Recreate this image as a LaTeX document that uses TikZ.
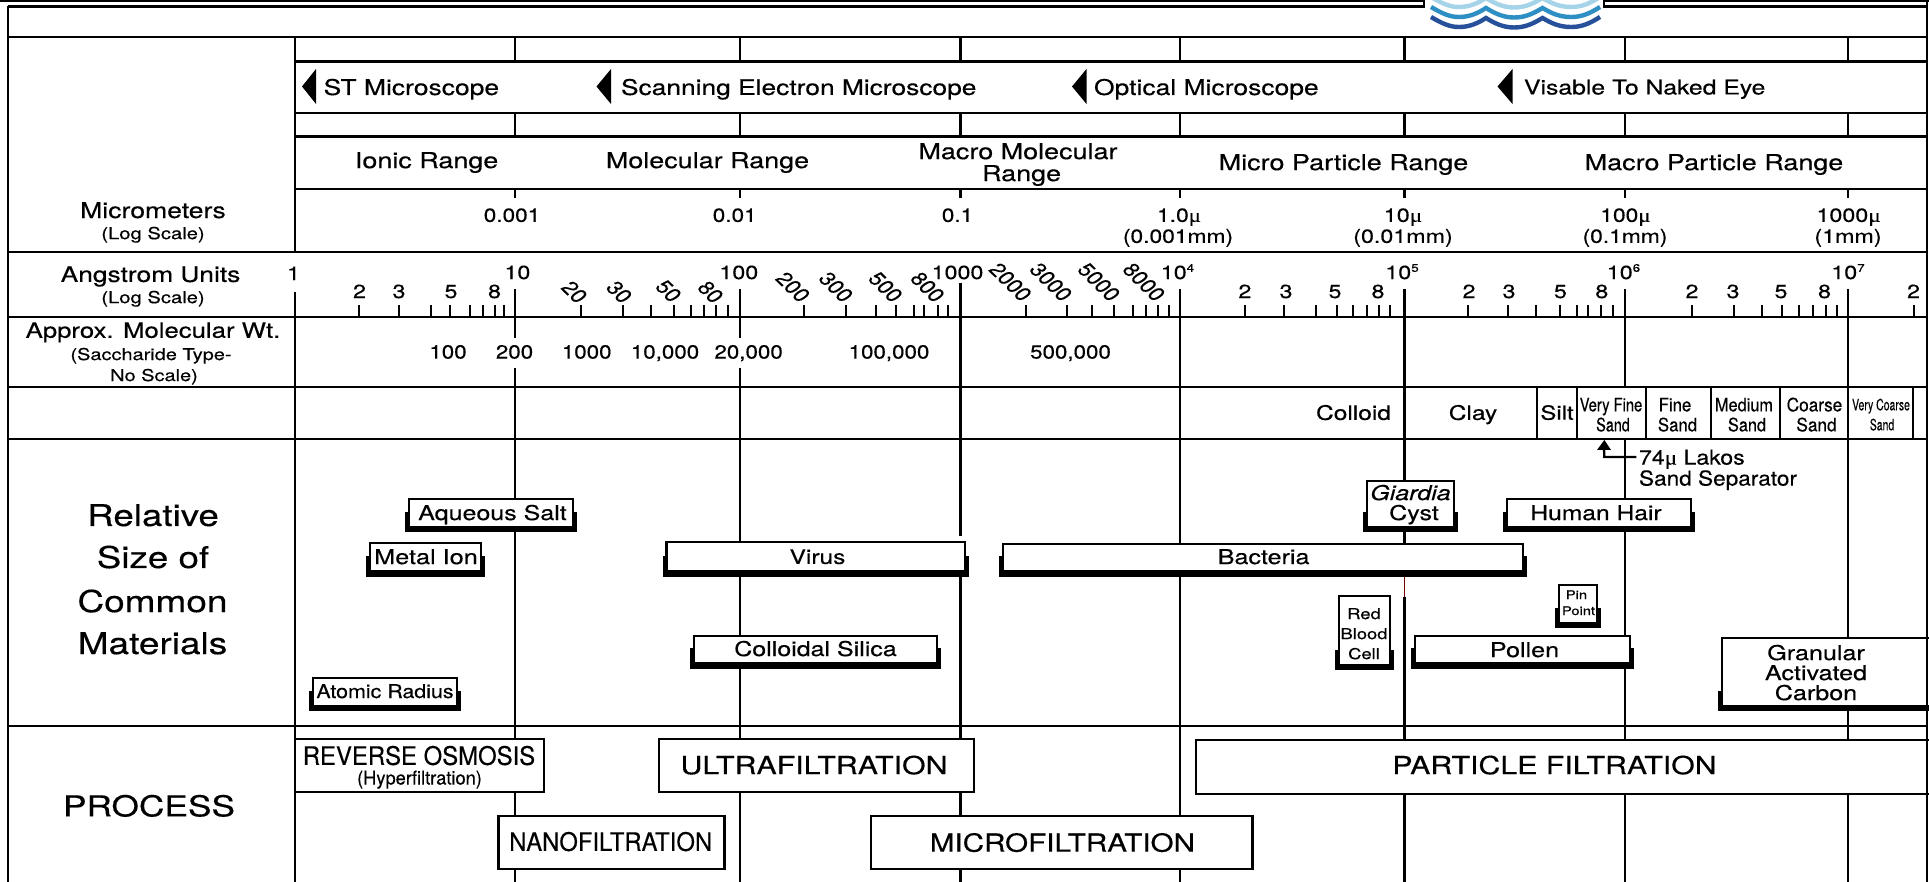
\documentclass[tikz,border=0pt]{standalone}
\usepackage{graphicx}
\usepackage{fontspec}
\setmainfont[FakeBold=0.3]{TeX Gyre Heros}
\newfontfamily\muf[FakeBold=0.3]{Liberation Serif}
\definecolor{waveA}{HTML}{A5D3E8}
\definecolor{waveB}{HTML}{2E8FC4}
\definecolor{waveC}{HTML}{27509B}
\tikzset{
  frameline/.style={line width=2.6pt,black},
  gridline/.style={line width=2.3pt,black},
  ticksmall/.style={line width=2pt,black},
  boxout/.style={draw=black,fill=white,line width=2.4pt},
  lab/.style={inner sep=0pt,outer sep=0pt,transform shape},
}
\newcommand\lab[6][base]{\node[lab,anchor=#1] (#2) at (#3,{#4+0.36*#5-0.8}) {\fontsize{#5}{#5}\selectfont\scalebox{#6}[1]{\labtext}};}
\newcommand\labtext{}
\newcommand\T[7][base]{\renewcommand\labtext{#7}\lab[#1]{#2}{#3}{#4}{#5}{#6}}
\newcommand\R[4]{\node[lab,anchor=center,rotate=-50] (#1) at (#2,#3) {\fontsize{19}{19}\selectfont #4};}
\newcommand\mus{{\muf μ}}
\newcommand\pw[1]{10\raisebox{0.38em}{\fontsize{11}{11}\selectfont #1}}
\newcommand\shadowbox[5]{%
  \fill[black] (#1-4,#4-15) rectangle (#3+4,#5+0.5);
  \draw[boxout] (#1,#2) rectangle (#3,#4);}
\newcommand\plainbox[4]{\draw[boxout] (#1,#2) rectangle (#3,#4);}
\newcommand\wavepath{(1431,17) .. controls (1443,24) and (1450,27) .. (1459,27) .. controls (1470,27) and (1478,23) .. (1486,18) .. controls (1494,23) and (1503,27.5) .. (1514,27.5) .. controls (1526,27.5) and (1534,23) .. (1542.5,18) .. controls (1551,23) and (1559,27) .. (1571,27) .. controls (1581,27) and (1589,24) .. (1600,17)}
\begin{document}
\begin{tikzpicture}[xscale=1.225,x=0.81633pt,y=-1pt]
\clip (0,0) rectangle (1929,882);
\fill[white] (0,0) rectangle (1929,882);
% logo
\draw[waveC,line width=4.4pt] \wavepath;
\begin{scope}[yshift=10pt]
\draw[waveB,line width=4.4pt] \wavepath;
\end{scope}
\begin{scope}[yshift=20pt]
\draw[waveA,line width=4.4pt] \wavepath;
\end{scope}
% top strips
\draw[frameline] (0,0.5) -- (1424,0.5) -- (1424,6.5) -- (8,6.5);
\draw[frameline] (1929,0.5) -- (1604,0.5) -- (1604,6.5) -- (1927,6.5);
% vertical scale lines
\foreach \x/\a/\b in {
  295/37/252, 295/292/882,
  515/37/61, 515/113/137, 515/189/198, 515/289/338, 515/368/882,
  740/37/61, 740/113/137, 740/189/198, 740/289/338, 740/368/882,
  960.5/37/61, 960.5/113/137, 960.5/189/198, 960.5/283/536, 960.5/543/882,
  1180/37/61, 1180/113/137, 1180/189/198, 1180/289/882,
  1404.5/37/61, 1404.5/113/137, 1404.5/189/198, 1404.5/289/576, 1404.5/597/882,
  1625/37/61, 1625/113/137, 1625/189/198, 1625/289/387, 1625/439/882,
  1848/37/61, 1848/113/137, 1848/189/198, 1848/289/882}
  {\draw[gridline] (\x,\a) -- (\x,\b);}
\draw[line width=1.4pt,red!45!black] (1404.5,576) -- (1404.5,597);
% horizontal rules
\foreach \y/\a in {37/8, 61.5/295, 113/295, 136.5/295, 189/295, 252/8, 317.3/8, 386.7/8, 438.7/8, 726.3/8}
  {\draw[gridline] (\a,\y) -- (1927,\y);}
% ticks of the Angstrom scale
\foreach \x in {359,398.6,431,450.4,470.4,482.7,494.5,504,
  581.4,623.4,651.4,673.5,691.4,703.6,716,727.7,
  803.6,845.7,875.5,895.9,913.5,924,938,948,
  1025.6,1067,1092,1114,1133,1146,1158,1168.6,
  1244.9,1284,1315.5,1336.5,1353,1367,1379,1390,
  1468,1508,1536,1559.6,1577,1588,1601,1612.5,
  1691.5,1734,1761.5,1782,1798.6,1812.7,1826,1837,1914}
  {\draw[ticksmall] (\x,305) -- (\x,317);}
% sand dividers
\foreach \x in {1404.5,1537,1577,1646,1711,1780,1848,1913}
  {\draw[gridline] (\x,387) -- (\x,439);}
% microscope arrows
\foreach \t/\b in {302/316,596.5/611,1072/1086.5,1497.5/1512.5}
  {\fill[black] (\t,86.5) -- (\b,69) -- (\b,104) -- cycle;}
% sand separator arrow
\coordinate (sandTip) at (1604,440);
\coordinate (sandElbow) at (1604,457);
\coordinate (sandEnd) at (1636,457);
\fill[black] (sandTip) -- (1611,450) -- (1597,450) -- cycle;
\draw[gridline] (1604,449) -- (sandElbow) -- (sandEnd);
% boxes with shadow
\shadowbox{409}{499}{573}{527}{532}
\shadowbox{370}{543}{481}{571}{577}
\shadowbox{313}{678}{457}{706}{711}
\shadowbox{666.5}{542}{965}{571}{577}
\shadowbox{1003}{544}{1523}{571}{577}
\shadowbox{694}{636}{937}{663}{669}
\shadowbox{1367}{481}{1454}{527}{532}
\shadowbox{1507}{499}{1691}{527}{532}
\shadowbox{1339}{596}{1390}{665}{670}
\shadowbox{1559}{585}{1597}{623}{628}
\shadowbox{1415}{636}{1630}{663}{669}
\shadowbox{1722}{638}{1940}{706}{711}
% process boxes
\plainbox{295}{739}{544}{792}
\plainbox{498.6}{816}{724.5}{869}
\plainbox{659}{739}{974}{792}
\plainbox{871}{816}{1252.5}{869}
\plainbox{1196}{740}{1940}{794}
% outer frame
\draw[frameline] (8,6.5) -- (8,882);
\draw[frameline] (1927,0) -- (1927,882);
% left column
\T{micro}{153}{211}{21.7}{1}{Micrometers}
\T{microsub}{153}{234}{16.5}{1}{(Log Scale)}
\T{ang}{150.5}{275}{21.5}{1}{Angstrom Units}
\T{angsub}{153}{298}{16.5}{1}{(Log Scale)}
\T{approx}{153}{331}{21}{1}{Approx. Molecular Wt.}
\T{sacch}{151}{355}{16.3}{1}{(Saccharide Type-}
\T{noscale}{154}{376}{16.3}{1}{No Scale)}
\T{rel}{153}{516}{30}{1}{Relative}
\T{size}{153}{558}{30}{1}{Size of}
\T{common}{152.5}{602}{30.2}{1}{Common}
\T{materials}{152.5}{644}{30.2}{1}{Materials}
\T{process}{149}{806.8}{28.8}{1}{PROCESS}
% microscope row
\T[base west]{st}{323.6}{88}{21.6}{1}{ST Microscope}
\T[base west]{sem}{621}{88}{21.5}{1}{Scanning Electron Microscope}
\T[base west]{opt}{1094}{88}{21.6}{1}{Optical Microscope}
\T[base west]{eye}{1524}{88}{20.2}{1}{Visable To Naked Eye}
% range row
\T{ionic}{426.6}{161}{22}{1}{Ionic Range}
\T{molec}{707.5}{161}{22}{1}{Molecular Range}
\T{macromol}{1018}{152}{22}{1}{Macro Molecular}
\T{macromolb}{1021.6}{174}{22}{1}{Range}
\T{micropart}{1343.5}{163}{22}{1}{Micro Particle Range}
\T{macropart}{1714}{163}{22}{1}{Macro Particle Range}
% micrometre values
\T{ma}{512}{215.8}{19}{.97}{0.001}
\T{mb}{734.7}{215.8}{19}{.97}{0.01}
\T{mc}{957.5}{215.8}{19}{.97}{0.1}
\T{md}{1179}{215.8}{19}{.98}{1.0\mus}
\T{mdb}{1178}{236.8}{19}{.98}{(0.001mm)}
\T{me}{1403}{215.8}{19}{1}{10\mus}
\T{meb}{1403}{236.8}{19}{1}{(0.01mm)}
\T{mf}{1625.4}{215.8}{19}{.98}{100\mus}
\T{mfb}{1625}{236.8}{19}{.98}{(0.1mm)}
\T{mg}{1848.6}{215.8}{19}{1}{1000\mus}
\T{mgb}{1848}{236.8}{19}{1}{(1mm)}
% Angstrom labels
\T{aone}{293.5}{274}{19}{1}{1}
\T{aten}{517.4}{273}{19}{1}{10}
\T{ahun}{738.8}{273}{19}{1}{100}
\T{atho}{957.5}{273}{19}{1}{1000}
\T{afour}{1177.5}{273}{19}{1}{\pw{4}}
\T{afive}{1402}{273}{19}{1}{\pw{5}}
\T{asix}{1623.5}{273}{19}{1}{\pw{6}}
\T{aseven}{1848}{273}{19}{1}{\pw{7}}
\T{da}{359.5}{292}{19}{1}{2}
\T{db}{399}{292}{19}{1}{3}
\T{dc}{451}{292}{19}{1}{5}
\T{dd}{494.5}{292}{19}{1}{8}
\T{de}{1244.9}{292}{19}{1}{2}
\T{df}{1286}{292}{19}{1}{3}
\T{dg}{1335}{292}{19}{1}{5}
\T{dh}{1378}{292}{19}{1}{8}
\T{di}{1469}{292}{19}{1}{2}
\T{dj}{1509}{292}{19}{1}{3}
\T{dk}{1560.4}{292}{19}{1}{5}
\T{dl}{1601.8}{292}{19}{1}{8}
\T{dm}{1692}{292}{19}{1}{2}
\T{dn}{1733}{292}{19}{1}{3}
\T{do}{1781}{292}{19}{1}{5}
\T{dp}{1824.5}{292}{19}{1}{8}
\T{dq}{1913.5}{292}{19}{1}{2}
\R{ra}{574.5}{292}{20}
\R{rb}{619.3}{292}{30}
\R{rc}{668.6}{291}{50}
\R{rd}{710.6}{292}{80}
\R{re}{793}{287}{200}
\R{rf}{836}{287}{300}
\R{rg}{885.6}{287}{500}
\R{rh}{927.6}{287}{800}
\R{ri}{1010.5}{282}{2000}
\R{rj}{1051}{282}{3000}
\R{rk}{1099}{282}{5000}
\R{rl}{1144}{282}{8000}
% molecular weights
\T{wa}{448}{352.5}{19}{.96}{100}
\T{wb}{514.5}{352.5}{19}{.96}{200}
\T{wc}{586.7}{352.5}{19}{.96}{1000}
\T{wd}{665}{352.5}{19}{.96}{10,000}
\T{we}{748.6}{352.5}{19}{.96}{20,000}
\T{wf}{889}{352.5}{19}{.96}{100,000}
\T{wg}{1070.5}{352.5}{19}{.96}{500,000}
% particle classes
\T{colloid}{1353.5}{413.5}{20}{1}{Colloid}
\T{clay}{1473}{413.5}{20}{1}{Clay}
\T{silt}{1557}{413.5}{19.5}{1}{Silt}
\T{vfa}{1611}{405.5}{18.5}{.65}{Very Fine}
\T{vfb}{1613}{425.5}{18.5}{.635}{Sand}
\T{fa}{1675}{405.5}{18.5}{.74}{Fine}
\T{fb}{1677.5}{425.5}{18.5}{.74}{Sand}
\T{meda}{1744}{405.5}{18.5}{.72}{Medium}
\T{medb}{1747}{425.5}{18.5}{.72}{Sand}
\T{coa}{1814.5}{405.5}{18.5}{.76}{Coarse}
\T{cob}{1816.5}{425.5}{18.5}{.76}{Sand}
\T{vca}{1881}{405.5}{15.5}{.55}{Very Coarse}
\T{vcb}{1882}{425.5}{15.5}{.55}{Sand}
\T[base west]{lakos}{1639}{458}{20.5}{.92}{74\mus{} Lakos}
\T[base west]{sep}{1639}{479}{20.5}{.90}{Sand Separator}
% materials
\T{aqueous}{492.5}{513.5}{20.4}{1}{Aqueous Salt}
\T{metal}{426}{557.5}{20.6}{1}{Metal Ion}
\T{atomic}{385}{692}{19}{.92}{Atomic Radius}
\T{virus}{817.5}{557.5}{20}{1}{Virus}
\T{bacteria}{1263.6}{557.5}{20.5}{1}{Bacteria}
\T{silica}{815.5}{649.5}{20.4}{1}{Colloidal Silica}
\T{giardia}{1410.5}{493.5}{20.4}{1}{\itshape Giardia}
\T{cyst}{1414}{513.5}{20.4}{1}{Cyst}
\T{hair}{1596}{513.5}{20.5}{.98}{Human Hair}
\T{reda}{1364}{614.5}{15}{1}{Red}
\T{redb}{1364}{634.5}{15}{1}{Blood}
\T{redc}{1364}{654.5}{15}{1}{Cell}
\T{pina}{1576.5}{595.5}{12}{1}{Pin}
\T{pinb}{1578.5}{611.5}{12}{1}{Point}
\T{pollen}{1524.5}{650.5}{20.5}{1}{Pollen}
\T{gra}{1816}{653.5}{20.5}{1}{Granular}
\T{grb}{1816}{673.5}{20.5}{1}{Activated}
\T{grc}{1816}{693.5}{20.5}{1}{Carbon}
% processes
\T{ro}{419}{756.5}{25.5}{.765}{REVERSE OSMOSIS}
\T{hyper}{419.5}{778.5}{19}{.785}{(Hyperfiltration)}
\T{nano}{610.7}{842.5}{25.5}{.763}{NANOFILTRATION}
\T{ultra}{814}{766}{25}{.99}{ULTRAFILTRATION}
\T{microf}{1062.4}{843.5}{25}{.967}{MICROFILTRATION}
\T{partf}{1554.5}{766}{25}{.99}{PARTICLE FILTRATION}
\end{tikzpicture}
\end{document}
